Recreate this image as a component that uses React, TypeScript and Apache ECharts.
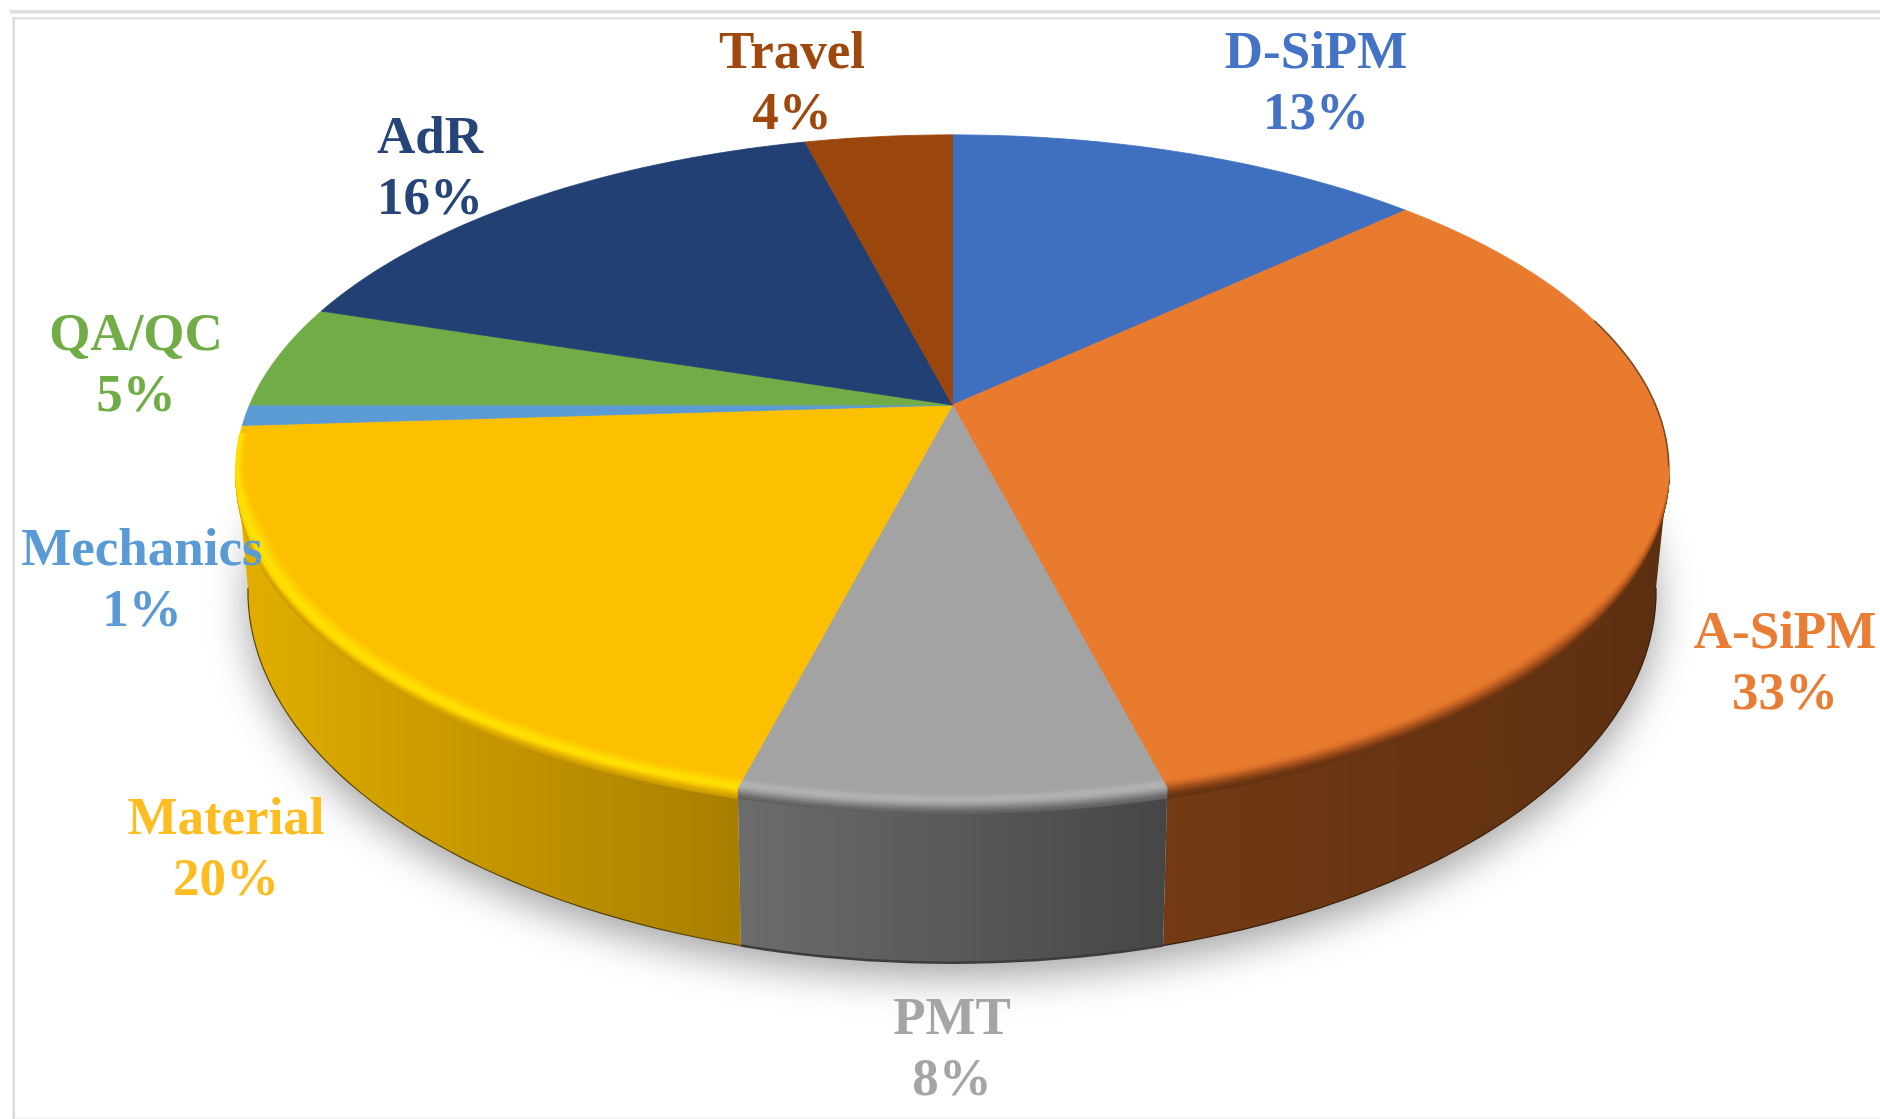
import React, { useEffect, useRef } from "react";
import * as echarts from "echarts";

// Budget shares, clockwise from twelve o'clock.
const categories = ["D-SiPM", "A-SiPM", "PMT", "Material", "Mechanics", "QA/QC", "AdR", "Travel"];
const shares = [13, 33, 8, 20, 1, 5, 16, 4];

const topColors = ["#3f70c0", "#e97b2f", "#a3a3a3", "#fcc000", "#5b9bd5", "#70ad47", "#224074", "#9a460d"];
const labelColors = ["#4472c4", "#e97d33", "#a5a5a5", "#fdbd21", "#5b9bd5", "#70ad47", "#264478", "#9e480e"];

// Label block centres in page pixels, one per category.
const labelCenters: [number, number][] = [
  [1316, 80], [1785, 660], [952, 1046], [226, 846],
  [142, 577], [136, 362], [430, 165], [792, 80],
];

// Projection of the pie's top face and of its lower ring onto the page.
const TILT = 0.192;
const TOP_RING = { cx: 952.5, cy: 405, fx: 703, fy: 322 };
const LOW_RING = { cx: 952, cy: 519.6, fx: 691, fy: 358 };
const FRONT_FROM = 100.6;
const FRONT_TO = 259.4;

type Ring = typeof TOP_RING;
const ringPoint = (ring: Ring, deg: number, r = 1, dy = 0): [number, number] => {
  const a = (deg * Math.PI) / 180;
  const X = r * Math.sin(a);
  const Y = -r * Math.cos(a);
  const d = 1 - TILT * Y;
  return [ring.cx + (ring.fx * X) / d, ring.cy + (ring.fy * Y) / d + dy];
};
const arc = (ring: Ring, from: number, to: number, r = 1, dy = 0) => {
  const n = Math.max(2, Math.ceil(Math.abs(to - from) / 1.5));
  const pts: [number, number][] = [];
  for (let i = 0; i <= n; i++) pts.push(ringPoint(ring, from + ((to - from) * i) / n, r, dy));
  return pts;
};

// Side wall shading and the soft lit edge between wall and top face.
const wallStops: Record<string, [string, string]> = {
  "A-SiPM": ["#733a13", "#5c2f11"],
  PMT: ["#6c6c6c", "#464646"],
  Material: ["#e2ae00", "#a87e00"],
};
const edgeRamps: Record<string, string[]> = {
  "A-SiPM": ["#e97b2f", "#e0752c", "#c86424", "#a4501c", "#864115", "#6e3712", "#633311"],
  PMT: ["#a6a6a6", "#b2b2b2", "#b0b0b0", "#a0a0a0", "#868686", "#6e6e6e", "#5f5f5f"],
  Material: ["#fdc600", "#ffd400", "#ffe000", "#ffdc00", "#f2c000", "#dca900", "#c99c00"],
};
const baseEdge: Record<string, [string, number]> = {
  "A-SiPM": ["#3a2009", 1.2],
  PMT: ["#3c3c3c", 2.5],
  Material: ["#55440f", 1.2],
};

const hex = (c: string) => [1, 3, 5].map((p) => parseInt(c.slice(p, p + 2), 16));
const mix = (a: string, b: string, t: number) => {
  const [x, y] = [hex(a), hex(b)];
  return `rgb(${x.map((v, i) => Math.round(v + (y[i] - v) * t)).join(",")})`;
};

// One contour of the lit edge; its inset shrinks towards the silhouette corners.
const bandLine = (name: string, from: number, to: number, step: number) => {
  const n = Math.max(2, Math.ceil((to - from) / 1.5));
  const pts: [number, number][] = [];
  for (let i = 0; i <= n; i++) {
    const deg = from + ((to - from) * i) / n;
    const taper =
      name === "A-SiPM" ? Math.min(1, Math.max(0, (deg - 101) / 32))
      : name === "Material" ? Math.min(1, Math.max(0, (266 - deg) / 18))
      : 1;
    const r = step < 0 ? 1 + step * 0.0065 * Math.max(taper, name === "Material" ? 0.5 : 0) : 1;
    const dy = step > 0 ? step * 3.2 * taper : 0;
    pts.push(ringPoint(TOP_RING, deg, r, dy));
  }
  return pts;
};

const renderSlice = (_: any, api: any) => {
  const index = api.value(0);
  const start = (api.value(1) / 100) * 360;
  const end = start + (api.value(2) / 100) * 360;
  const name = categories[index];
  const color = topColors[index];
  const children: any[] = [];

  const from = Math.max(start, FRONT_FROM);
  const to = Math.min(end, FRONT_TO);
  if (to > from) {
    const upper = arc(TOP_RING, from, to);
    const lower = arc(LOW_RING, from, to);
    const [c0, c1] = wallStops[name];
    children.push({
      type: "polygon",
      shape: { points: [...upper, ...lower.reverse()] },
      style: {
        fill: new echarts.graphic.LinearGradient(1, 0, 0, 0, [
          { offset: 0, color: c1 },
          { offset: 1, color: c0 },
        ]),
      },
    });
    const [edgeColor, edgeWidth] = baseEdge[name];
    children.push({
      type: "polyline",
      shape: { points: arc(LOW_RING, from, to) },
      style: { stroke: edgeColor, lineWidth: edgeWidth, fill: null },
    });
  }

  const rim = arc(TOP_RING, start, end);
  children.push({
    type: "polygon",
    shape: { points: [[TOP_RING.cx, TOP_RING.cy], ...rim] },
    style: { fill: color, stroke: color, lineWidth: 0.8 },
  });

  // Thin dark contour where the orange face rolls over the right shoulder.
  if (name === "A-SiPM") {
    children.push({
      type: "polyline",
      shape: { points: arc(TOP_RING, 74, FRONT_FROM + 4) },
      style: { stroke: "#7d4a22", lineWidth: 1.6, fill: null },
    });
  }

  if (to > from) {
    const ramp = edgeRamps[name];
    const bandEnd = name === "Material" ? Math.min(end, 265) : to;
    const sub = 3;
    for (let i = (ramp.length - 1) * sub; i >= 0; i--) {
      const pos = i / sub;
      const low = Math.min(Math.floor(pos), ramp.length - 2);
      const step = pos - 3;
      children.push({
        type: "polyline",
        shape: { points: bandLine(name, from, step > 0 ? to : bandEnd, step) },
        style: { stroke: mix(ramp[low], ramp[low + 1], pos - low), lineWidth: 2, fill: null, lineCap: "butt" },
      });
    }
  }
  return { type: "group", children };
};

const renderLabel = (_: any, api: any) => {
  const index = api.value(0);
  const [x, y] = labelCenters[index];
  return {
    type: "text",
    style: {
      x,
      y,
      text: `${categories[index]}\n${api.value(2)}%`,
      fill: labelColors[index],
      fontFamily: "Liberation Serif",
      fontWeight: "bold",
      fontSize: 53,
      lineHeight: 61,
      align: "center",
      verticalAlign: "middle",
    },
  };
};

// Soft cast shadow under the pie, drawn from the lower ring.
const renderShadow = () => ({
  type: "polygon",
  shape: { points: arc(LOW_RING, 0, 360) },
  style: {
    fill: "#d8d8d8",
    shadowBlur: 40,
    shadowOffsetY: 14,
    shadowColor: "rgba(0,0,0,0.36)",
  },
});

export default function App() {
  const ref = useRef<HTMLDivElement>(null);
  useEffect(() => {
    const chart = echarts.init(ref.current!, undefined, { renderer: "svg" });
    let running = 0;
    const rows = shares.map((v, i) => {
      const row = [i, running, v];
      running += v;
      return row;
    });
    chart.setOption({
      animation: false,
      backgroundColor: "#ffffff",
      graphic: [
        { type: "rect", shape: { x: 10, y: 10, width: 1870, height: 3.5 }, style: { fill: "#dedede" } },
        { type: "rect", shape: { x: 12, y: 17, width: 1868, height: 2.5 }, style: { fill: "#e2e2e2" } },
        { type: "rect", shape: { x: 12.5, y: 17, width: 2.5, height: 1102 }, style: { fill: "#dcdcdc" } },
        { type: "rect", shape: { x: 15, y: 1117, width: 1865, height: 2 }, style: { fill: "#f4f6f6" } },
      ],
      series: [
        { type: "custom", coordinateSystem: "none", z: 1, silent: true, data: [[0]], renderItem: renderShadow },
        { type: "custom", coordinateSystem: "none", z: 2, silent: true, data: rows, renderItem: renderSlice },
        { type: "custom", coordinateSystem: "none", z: 3, silent: true, data: rows, renderItem: renderLabel },
      ],
    });
    return () => chart.dispose();
  }, []);
  return <div ref={ref} style={{ position: "fixed", left: 0, top: 0, width: 1880, height: 1119 }} />;
}
